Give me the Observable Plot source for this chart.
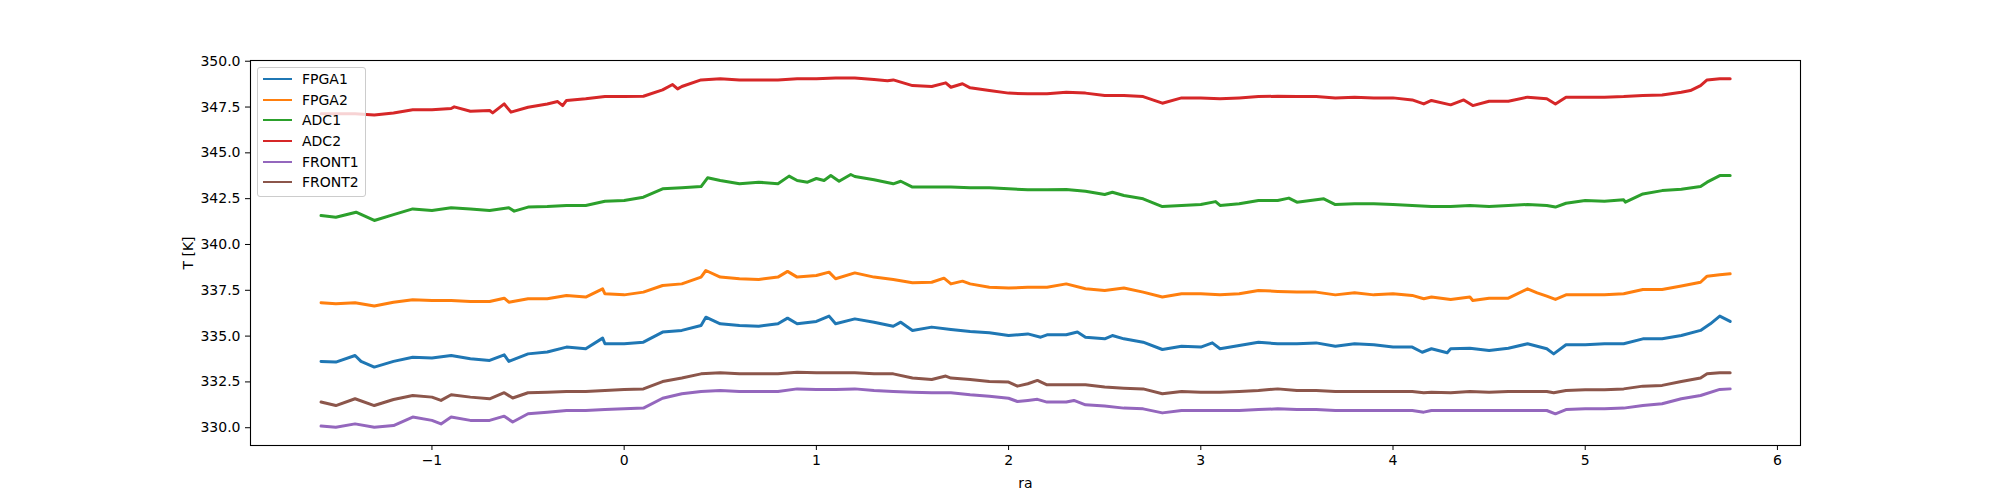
<!DOCTYPE html>
<html><head><meta charset="utf-8">
<script src="https://cdn.jsdelivr.net/npm/d3@7"></script>
<script src="https://cdn.jsdelivr.net/npm/@observablehq/plot@0.6"></script>
<style>
body{margin:0;background:#fff;font-family:"DejaVu Sans",sans-serif}
#wrap{position:relative;width:2000px;height:500px}
#legend{position:absolute;left:257px;top:67px;background:rgba(255,255,255,0.8);border:1px solid #cccccc;border-radius:3px;padding:1px 6px 3px 5px;font:14px "DejaVu Sans",sans-serif;color:#000}
#legend .row{display:flex;align-items:center;height:20.6px}
#legend .sw{width:29px;height:0;border-top:2px solid;margin-right:10px}
</style></head>
<body><div id="wrap"></div>
<script>
const names = ["FPGA1","FPGA2","ADC1","ADC2","FRONT1","FRONT2"];
const colors = ["#1f77b4","#ff7f0e","#2ca02c","#d62728","#9467bd","#8c564b"];
const xTicks = [-1,0,1,2,3,4,5,6];
const yTicks = [330,332.5,335,337.5,340,342.5,345,347.5,350];

const raFPGA1 = [-1.577,-1.5,-1.4,-1.369,-1.3,-1.2,-1.1,-1.0,-0.9,-0.8,-0.7,-0.624,-0.6,-0.5,-0.4,-0.3,-0.2,-0.112,-0.1,0.0,0.1,0.2,0.3,0.4,0.425,0.5,0.6,0.7,0.8,0.85,0.9,1.0,1.066,1.1,1.2,1.3,1.4,1.439,1.5,1.6,1.7,1.8,1.9,2.0,2.1,2.167,2.2,2.3,2.358,2.4,2.5,2.54,2.6,2.7,2.8,2.9,3.0,3.06,3.1,3.2,3.3,3.4,3.5,3.6,3.7,3.8,3.9,4.0,4.1,4.152,4.2,4.282,4.3,4.4,4.5,4.6,4.7,4.8,4.836,4.9,5.0,5.1,5.2,5.3,5.4,5.5,5.6,5.651,5.7,5.754];
const FPGA1 = [333.62,333.58,333.94,333.62,333.31,333.62,333.85,333.80,333.94,333.76,333.67,333.98,333.62,334.03,334.13,334.40,334.31,334.89,334.58,334.58,334.67,335.22,335.31,335.58,336.03,335.67,335.58,335.54,335.67,335.98,335.67,335.80,336.09,335.67,335.94,335.76,335.54,335.76,335.31,335.49,335.36,335.25,335.18,335.03,335.12,334.94,335.07,335.07,335.22,334.94,334.85,335.03,334.85,334.67,334.27,334.45,334.40,334.63,334.31,334.49,334.67,334.58,334.58,334.63,334.45,334.58,334.53,334.40,334.40,334.12,334.31,334.09,334.31,334.34,334.22,334.34,334.58,334.31,334.03,334.53,334.53,334.58,334.58,334.85,334.85,335.03,335.31,335.67,336.09,335.80];

const raFPGA2 = [-1.577,-1.5,-1.4,-1.3,-1.2,-1.1,-1.0,-0.9,-0.8,-0.7,-0.624,-0.6,-0.5,-0.4,-0.3,-0.2,-0.112,-0.1,0.0,0.1,0.2,0.3,0.4,0.425,0.5,0.6,0.7,0.8,0.85,0.9,1.0,1.066,1.1,1.2,1.3,1.4,1.5,1.6,1.664,1.7,1.76,1.8,1.9,2.0,2.1,2.2,2.3,2.4,2.5,2.6,2.7,2.8,2.9,3.0,3.1,3.2,3.3,3.4,3.5,3.6,3.7,3.8,3.9,4.0,4.1,4.16,4.2,4.3,4.4,4.415,4.5,4.6,4.7,4.75,4.8,4.845,4.9,5.0,5.1,5.2,5.3,5.4,5.5,5.6,5.634,5.7,5.754];
const FPGA2 = [336.82,336.76,336.82,336.64,336.85,336.98,336.94,336.94,336.89,336.89,337.07,336.85,337.04,337.04,337.22,337.13,337.58,337.31,337.25,337.40,337.76,337.85,338.22,338.58,338.22,338.13,338.09,338.22,338.53,338.22,338.31,338.49,338.13,338.45,338.22,338.09,337.91,337.94,338.16,337.85,338.00,337.85,337.67,337.62,337.67,337.67,337.85,337.58,337.49,337.62,337.40,337.13,337.31,337.31,337.25,337.31,337.49,337.44,337.40,337.40,337.25,337.36,337.25,337.31,337.22,337.04,337.13,337.00,337.13,336.94,337.07,337.07,337.58,337.36,337.18,337.00,337.25,337.25,337.25,337.31,337.54,337.54,337.73,337.94,338.27,338.35,338.40];

const raADC1 = [-1.577,-1.5,-1.395,-1.3,-1.2,-1.1,-1.0,-0.9,-0.8,-0.7,-0.6,-0.572,-0.5,-0.4,-0.3,-0.2,-0.1,0.0,0.1,0.2,0.3,0.4,0.434,0.5,0.6,0.7,0.8,0.858,0.9,0.954,1.0,1.04,1.075,1.118,1.179,1.2,1.3,1.4,1.439,1.5,1.6,1.7,1.8,1.9,2.0,2.1,2.2,2.3,2.4,2.5,2.54,2.6,2.7,2.8,2.9,3.0,3.077,3.1,3.2,3.3,3.4,3.458,3.5,3.6,3.64,3.7,3.8,3.9,4.0,4.1,4.2,4.3,4.4,4.5,4.6,4.7,4.8,4.845,4.9,5.0,5.1,5.2,5.209,5.3,5.4,5.5,5.6,5.634,5.7,5.754];
const ADC1 = [341.58,341.49,341.76,341.31,341.63,341.94,341.85,342.00,341.94,341.85,342.00,341.82,342.04,342.07,342.13,342.13,342.36,342.40,342.58,343.04,343.09,343.16,343.64,343.49,343.31,343.40,343.31,343.73,343.49,343.40,343.60,343.49,343.76,343.45,343.82,343.71,343.53,343.31,343.45,343.13,343.13,343.13,343.09,343.09,343.04,342.98,342.98,343.00,342.91,342.73,342.85,342.67,342.49,342.07,342.13,342.18,342.34,342.13,342.22,342.40,342.40,342.53,342.31,342.44,342.49,342.18,342.22,342.22,342.18,342.13,342.07,342.07,342.13,342.07,342.13,342.18,342.13,342.04,342.25,342.40,342.36,342.44,342.31,342.76,342.94,343.02,343.16,343.40,343.76,343.76];

const raADC2 = [-1.577,-1.5,-1.4,-1.3,-1.2,-1.1,-1.0,-0.9,-0.884,-0.8,-0.7,-0.684,-0.624,-0.589,-0.5,-0.4,-0.346,-0.32,-0.3,-0.2,-0.1,0.0,0.1,0.2,0.252,0.278,0.3,0.4,0.5,0.6,0.7,0.8,0.9,1.0,1.1,1.2,1.3,1.37,1.4,1.5,1.6,1.673,1.7,1.76,1.8,1.9,2.0,2.1,2.2,2.3,2.4,2.5,2.6,2.7,2.8,2.9,3.0,3.1,3.2,3.3,3.4,3.5,3.6,3.7,3.8,3.9,4.0,4.1,4.16,4.2,4.3,4.368,4.415,4.5,4.6,4.7,4.8,4.845,4.9,5.0,5.1,5.2,5.3,5.4,5.5,5.547,5.6,5.634,5.7,5.754];
const ADC2 = [347.13,347.13,347.13,347.07,347.18,347.35,347.35,347.42,347.51,347.27,347.31,347.18,347.67,347.22,347.49,347.67,347.80,347.58,347.86,347.95,348.07,348.07,348.09,348.44,348.73,348.49,348.62,348.98,349.04,348.98,348.98,348.98,349.04,349.04,349.09,349.09,349.00,348.93,348.98,348.67,348.62,348.82,348.58,348.77,348.55,348.40,348.26,348.22,348.22,348.31,348.26,348.13,348.13,348.07,347.71,348.00,348.00,347.95,348.00,348.07,348.09,348.07,348.07,348.00,348.04,348.00,348.00,347.89,347.67,347.86,347.62,347.89,347.58,347.82,347.82,348.04,347.95,347.67,348.04,348.04,348.04,348.07,348.13,348.16,348.31,348.40,348.67,348.98,349.04,349.04];

const raFRONT1 = [-1.577,-1.5,-1.4,-1.3,-1.2,-1.1,-1.0,-0.953,-0.9,-0.8,-0.7,-0.624,-0.58,-0.5,-0.4,-0.3,-0.2,-0.1,0.0,0.1,0.2,0.3,0.4,0.5,0.6,0.7,0.8,0.9,1.0,1.1,1.2,1.3,1.4,1.5,1.6,1.7,1.8,1.9,2.0,2.046,2.1,2.15,2.2,2.3,2.34,2.4,2.5,2.6,2.7,2.8,2.9,3.0,3.1,3.2,3.3,3.4,3.5,3.6,3.7,3.8,3.9,4.0,4.1,4.16,4.2,4.3,4.4,4.5,4.6,4.7,4.8,4.845,4.9,5.0,5.1,5.2,5.3,5.4,5.5,5.6,5.7,5.754];
const FRONT1 = [330.09,330.03,330.21,330.03,330.12,330.58,330.40,330.21,330.58,330.40,330.40,330.63,330.31,330.76,330.85,330.94,330.94,330.99,331.03,331.07,331.61,331.85,331.98,332.03,331.98,331.98,331.98,332.12,332.09,332.09,332.12,332.03,331.98,331.94,331.91,331.91,331.80,331.72,331.61,331.43,331.49,331.55,331.40,331.40,331.49,331.25,331.18,331.07,331.03,330.81,330.94,330.94,330.94,330.94,330.99,331.03,330.99,330.99,330.94,330.94,330.94,330.94,330.94,330.85,330.94,330.94,330.94,330.94,330.94,330.94,330.94,330.76,330.99,331.03,331.03,331.07,331.21,331.31,331.58,331.76,332.09,332.12];

const raFRONT2 = [-1.577,-1.5,-1.4,-1.3,-1.2,-1.1,-1.0,-0.953,-0.9,-0.8,-0.7,-0.624,-0.58,-0.5,-0.4,-0.3,-0.2,-0.1,0.0,0.1,0.2,0.3,0.4,0.5,0.6,0.7,0.8,0.9,1.0,1.1,1.2,1.3,1.4,1.5,1.6,1.673,1.7,1.8,1.9,2.0,2.046,2.1,2.15,2.2,2.3,2.4,2.5,2.6,2.7,2.8,2.9,3.0,3.1,3.2,3.3,3.4,3.5,3.6,3.7,3.8,3.9,4.0,4.1,4.16,4.2,4.3,4.4,4.5,4.6,4.7,4.8,4.836,4.9,5.0,5.1,5.2,5.3,5.4,5.5,5.6,5.634,5.7,5.754];
const FRONT2 = [331.40,331.21,331.58,331.21,331.54,331.76,331.67,331.49,331.80,331.67,331.58,331.91,331.62,331.91,331.94,331.98,331.98,332.03,332.09,332.12,332.52,332.71,332.94,333.00,332.94,332.94,332.94,333.03,333.00,333.00,333.00,332.94,332.94,332.71,332.63,332.82,332.71,332.63,332.52,332.49,332.27,332.40,332.58,332.34,332.34,332.34,332.22,332.16,332.12,331.85,331.98,331.94,331.94,331.98,332.03,332.12,332.03,332.03,331.98,331.98,331.98,331.98,331.98,331.91,331.94,331.91,331.98,331.94,331.98,331.98,331.98,331.91,332.03,332.07,332.07,332.12,332.27,332.31,332.52,332.71,332.94,333.00,333.00];

const raList = [raFPGA1, raFPGA2, raADC1, raADC2, raFRONT1, raFRONT2];
const tList = [FPGA1, FPGA2, ADC1, ADC2, FRONT1, FRONT2];
const data = names.flatMap((name, i) => raList[i].map((r, j) => ({ra: r, T: tList[i][j], series: name})));

const minusFmt = d => d < 0 ? "\u2212" + (-d) : String(d);

const chart = Plot.plot({
  width: 2000, height: 500,
  marginLeft: 250, marginRight: 200, marginTop: 60, marginBottom: 55,
  style: {fontFamily: "DejaVu Sans, sans-serif", fontSize: "14px", color: "black", background: "white"},
  x: {domain: [-1.944, 6.12]},
  y: {domain: [329.03, 350.04]},
  color: {domain: names, range: colors},
  marks: [
    Plot.line(data, {x: "ra", y: "T", z: "series", stroke: "series", strokeWidth: 3, strokeLinejoin: "round"}),
    Plot.frame({stroke: "black", strokeWidth: 1.1}),
    Plot.axisX({ticks: xTicks, tickFormat: minusFmt, tickSize: 5, tickPadding: 5, label: "ra", labelAnchor: "center", labelOffset: 42, labelArrow: "none"}),
    Plot.axisY({ticks: yTicks, tickFormat: d => d.toFixed(1), tickSize: 5, tickPadding: 5, label: "T [K]", labelAnchor: "center", labelOffset: 67, labelArrow: "none"})
  ]
});
const wrap = document.getElementById("wrap");
wrap.appendChild(chart);

const legend = d3.select(wrap).append("div").attr("id", "legend");
const rows = legend.selectAll("div.row").data(names).join("div").attr("class", "row");
rows.append("div").attr("class", "sw").style("border-top-color", (d, i) => colors[i]);
rows.append("span").text(d => d);
</script>
</body></html>
